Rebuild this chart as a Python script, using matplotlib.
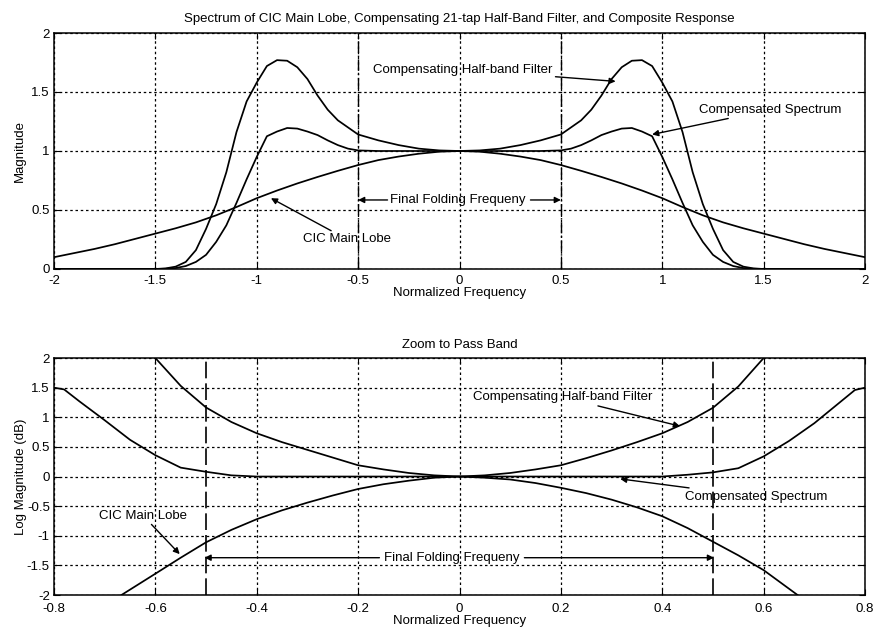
import matplotlib
matplotlib.use("Agg")
import matplotlib.pyplot as plt

plt.rcParams['font.family'] = ['Liberation Sans', 'DejaVu Sans']

# ---------------- Top panel: linear magnitude ----------------
cic_f = [-2.0, -1.9, -1.8, -1.7, -1.6, -1.5, -1.4, -1.3, -1.2, -1.1, -1.0,
         -0.9, -0.8, -0.7, -0.6, -0.5, -0.4, -0.3, -0.2, -0.1, 0.0,
         0.1, 0.2, 0.3, 0.4, 0.5, 0.6, 0.7, 0.8, 0.9, 1.0,
         1.1, 1.2, 1.3, 1.4, 1.5, 1.6, 1.7, 1.8, 1.9, 2.0]
cic_mag = [0.10, 0.135, 0.17, 0.21, 0.255, 0.30, 0.345, 0.395, 0.455, 0.525, 0.60,
           0.665, 0.725, 0.78, 0.832, 0.881, 0.923, 0.953, 0.977, 0.994, 1.0,
           0.994, 0.977, 0.953, 0.923, 0.881, 0.832, 0.78, 0.725, 0.665, 0.60,
           0.525, 0.455, 0.395, 0.345, 0.30, 0.255, 0.21, 0.17, 0.135, 0.10]

hb_f = [-2.0, -1.75, -1.5, -1.45, -1.4, -1.35, -1.3, -1.25, -1.2, -1.15, -1.1,
        -1.05, -1.0, -0.95, -0.9, -0.85, -0.8, -0.75, -0.7, -0.65, -0.6,
        -0.5, -0.4, -0.3, -0.2, -0.1, 0.0,
        0.1, 0.2, 0.3, 0.4, 0.5, 0.6, 0.65, 0.7, 0.75, 0.8,
        0.85, 0.9, 0.95, 1.0, 1.05, 1.1, 1.15, 1.2, 1.25, 1.3,
        1.35, 1.4, 1.45, 1.5, 1.75, 2.0]
hb_mag = [0.0, 0.0, 0.0, 0.005, 0.02, 0.06, 0.16, 0.34, 0.55, 0.82, 1.16,
          1.42, 1.58, 1.72, 1.77, 1.765, 1.71, 1.61, 1.47, 1.35, 1.26,
          1.14, 1.09, 1.05, 1.02, 1.005, 1.0,
          1.005, 1.02, 1.05, 1.09, 1.14, 1.26, 1.35, 1.47, 1.61, 1.71,
          1.765, 1.77, 1.72, 1.58, 1.42, 1.16, 0.82, 0.55, 0.34, 0.16,
          0.06, 0.02, 0.005, 0.0, 0.0, 0.0]

comp_f = [-2.0, -1.75, -1.5, -1.45, -1.4, -1.35, -1.3, -1.25, -1.2, -1.15, -1.1,
          -1.05, -1.0, -0.95, -0.9, -0.85, -0.8, -0.75, -0.7, -0.65, -0.6,
          -0.55, -0.5, -0.4, -0.3, -0.2, -0.1, 0.0,
          0.1, 0.2, 0.3, 0.4, 0.5, 0.55, 0.6, 0.65, 0.7, 0.75,
          0.8, 0.85, 0.9, 0.95, 1.0, 1.05, 1.1, 1.15, 1.2, 1.25,
          1.3, 1.35, 1.4, 1.45, 1.5, 1.75, 2.0]
comp_mag = [0.0, 0.0, 0.0, 0.002, 0.008, 0.025, 0.06, 0.12, 0.23, 0.37, 0.56,
            0.76, 0.95, 1.125, 1.165, 1.195, 1.19, 1.165, 1.135, 1.09, 1.05,
            1.02, 1.005, 1.0, 1.0, 1.0, 1.0, 1.0,
            1.0, 1.0, 1.0, 1.0, 1.005, 1.02, 1.05, 1.09, 1.135, 1.165,
            1.19, 1.195, 1.165, 1.125, 0.95, 0.76, 0.56, 0.37, 0.23, 0.12,
            0.06, 0.025, 0.008, 0.002, 0.0, 0.0, 0.0]

top_ticks = [-2, -1.5, -1, -0.5, 0, 0.5, 1, 1.5, 2]
top_ticklabels = ['-2', '-1.5', '-1', '-0.5', '0', '0.5', '1', '1.5', '2']
top_yticks = [0, 0.5, 1, 1.5, 2]
top_yticklabels = ['0', '0.5', '1', '1.5', '2']

# ---------------- Bottom panel: pass band in dB ----------------
hb_db_f = [-0.6, -0.55, -0.5, -0.45, -0.4, -0.35, -0.3, -0.25, -0.2, -0.15, -0.1, -0.05, 0.0,
           0.05, 0.1, 0.15, 0.2, 0.25, 0.3, 0.35, 0.4, 0.45, 0.5, 0.55, 0.6]
hb_db = [2.0, 1.53, 1.165, 0.92, 0.73, 0.58, 0.45, 0.32, 0.19, 0.12, 0.06, 0.02, 0.0,
         0.02, 0.06, 0.12, 0.19, 0.31, 0.44, 0.58, 0.73, 0.92, 1.16, 1.52, 2.0]

comp_db_f = [-0.8, -0.78, -0.75, -0.7, -0.65, -0.6, -0.55, -0.5, -0.45, -0.4,
             -0.2, 0.0, 0.2,
             0.4, 0.45, 0.5, 0.55, 0.6, 0.65, 0.7, 0.75, 0.78, 0.8]
comp_db = [1.5, 1.47, 1.27, 0.95, 0.62, 0.36, 0.15, 0.08, 0.02, 0.0,
           0.0, 0.0, 0.0,
           0.0, 0.03, 0.07, 0.14, 0.34, 0.6, 0.9, 1.25, 1.46, 1.5]

cic_db_f = [-0.667, -0.6, -0.55, -0.5, -0.45, -0.4, -0.35, -0.3, -0.25, -0.2, -0.15, -0.1, -0.05, 0.0,
            0.05, 0.1, 0.15, 0.2, 0.25, 0.3, 0.35, 0.4, 0.45, 0.5, 0.55, 0.6, 0.667]
cic_db = [-2.0, -1.64, -1.37, -1.11, -0.9, -0.72, -0.57, -0.44, -0.32, -0.21, -0.13, -0.07, -0.02, 0.0,
          -0.02, -0.05, -0.11, -0.19, -0.28, -0.39, -0.52, -0.67, -0.87, -1.1, -1.33, -1.58, -2.0]

bot_ticks = [-0.8, -0.6, -0.4, -0.2, 0, 0.2, 0.4, 0.6, 0.8]
bot_ticklabels = ['-0.8', '-0.6', '-0.4', '-0.2', '0', '0.2', '0.4', '0.6', '0.8']
bot_yticks = [-2, -1.5, -1, -0.5, 0, 0.5, 1, 1.5, 2]
bot_yticklabels = ['-2', '-1.5', '-1', '-0.5', '0', '0.5', '1', '1.5', '2']

folding = 0.5

FS = 9.5
LW = 1.25
grid_style = dict(color='black', linewidth=0.9, linestyle=(0, (2, 2.2)))

fig = plt.figure(figsize=(8.75, 6.31), dpi=100)
ax1 = fig.add_axes([0.0617, 0.5737, 0.9269, 0.374])
ax2 = fig.add_axes([0.0617, 0.057, 0.9269, 0.3756])


def style_axes(ax, xt, xtl, yt, ytl, xpad):
    ax.set_xticks(xt)
    ax.set_xticklabels(xtl)
    ax.set_yticks(yt)
    ax.set_yticklabels(ytl)
    ax.tick_params(direction='in', length=4, width=0.8, labelsize=FS,
                   top=True, right=True)
    ax.tick_params(axis='x', pad=xpad)
    ax.tick_params(axis='y', pad=3)
    for s in ax.spines.values():
        s.set_linewidth(1.1)
        s.set_color('black')
    ax.grid(True, **grid_style)
    ax.set_axisbelow(True)


# top panel
ax1.plot(cic_f, cic_mag, color='black', lw=LW)
ax1.plot(hb_f, hb_mag, color='black', lw=LW)
ax1.plot(comp_f, comp_mag, color='black', lw=LW)
for xv in (-folding, folding):
    ax1.axvline(xv, color='black', lw=1.0, linestyle=(0, (8, 2, 1, 2)))
ax1.set_xlim(-2, 2)
ax1.set_ylim(0, 2)
style_axes(ax1, top_ticks, top_ticklabels, top_yticks, top_yticklabels, 4.5)
ax1.set_title('Spectrum of CIC Main Lobe, Compensating 21-tap Half-Band Filter, and Composite Response',
              fontsize=FS, pad=8)
ax1.set_xlabel('Normalized Frequency', fontsize=FS, labelpad=0)
ax1.set_ylabel('Magnitude', fontsize=FS, labelpad=4)

arrow = dict(arrowstyle='-|>', color='black', lw=1.0, mutation_scale=9, shrinkA=0, shrinkB=0)
ax1.annotate('Compensating Half-band Filter', xy=(0.77, 1.59), xytext=(-0.425, 1.69),
             fontsize=FS, va='center', ha='left', arrowprops=arrow)
ax1.annotate('Compensated Spectrum', xy=(0.95, 1.14), xytext=(1.18, 1.35),
             fontsize=FS, va='center', ha='left', arrowprops=arrow)
ax1.annotate('CIC Main Lobe', xy=(-0.93, 0.60), xytext=(-0.77, 0.25),
             fontsize=FS, va='center', ha='left', arrowprops=arrow)
ax1.text(-0.01, 0.585, 'Final Folding Frequeny', fontsize=FS, ha='center', va='center')
ax1.annotate('', xy=(-0.5, 0.585), xytext=(-0.355, 0.585), arrowprops=arrow)
ax1.annotate('', xy=(0.5, 0.585), xytext=(0.35, 0.585), arrowprops=arrow)

# bottom panel
ax2.plot(hb_db_f, hb_db, color='black', lw=LW)
ax2.plot(comp_db_f, comp_db, color='black', lw=LW)
ax2.plot(cic_db_f, cic_db, color='black', lw=LW)
for xv in (-folding, folding):
    ax2.axvline(xv, color='black', lw=1.2, linestyle=(0, (10, 3)))
ax2.set_xlim(-0.8, 0.8)
ax2.set_ylim(-2, 2)
style_axes(ax2, bot_ticks, bot_ticklabels, bot_yticks, bot_yticklabels, 5.5)
ax2.set_title('Zoom to Pass Band', fontsize=FS, pad=7)
ax2.set_xlabel('Normalized Frequency', fontsize=FS, labelpad=0)
ax2.set_ylabel('Log Magnitude (dB)', fontsize=FS, labelpad=0)

ax2.annotate('Compensating Half-band Filter', xy=(0.435, 0.85), xytext=(0.026, 1.34),
             fontsize=FS, va='center', ha='left', arrowprops=arrow)
ax2.annotate('Compensated Spectrum', xy=(0.317, -0.04), xytext=(0.445, -0.34),
             fontsize=FS, va='center', ha='left', arrowprops=arrow)
ax2.annotate('CIC Main Lobe', xy=(-0.552, -1.31), xytext=(-0.711, -0.66),
             fontsize=FS, va='center', ha='left', arrowprops=arrow)
ax2.text(-0.016, -1.37, 'Final Folding Frequeny', fontsize=FS, ha='center', va='center')
ax2.annotate('', xy=(-0.503, -1.37), xytext=(-0.158, -1.37), arrowprops=arrow)
ax2.annotate('', xy=(0.502, -1.37), xytext=(0.128, -1.37), arrowprops=arrow)

fig.savefig('out.png', dpi=100)
